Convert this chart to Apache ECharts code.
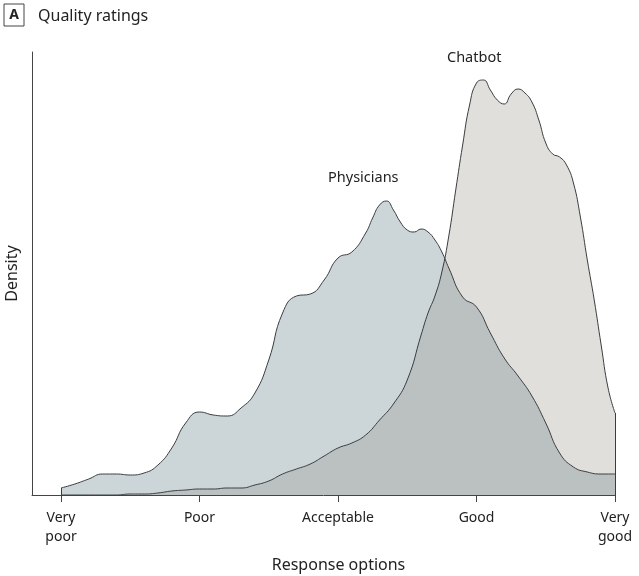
<!DOCTYPE html>
<html>
<head>
<meta charset="utf-8">
<script src="https://cdn.jsdelivr.net/npm/echarts@6/dist/echarts.min.js"></script>
<style>
html,body{margin:0;padding:0;background:#fff;}
#c{width:639px;height:576px;}
</style>
</head>
<body>
<div id="c"></div>
<script>
// Response scale positions (1 = Very poor ... 5 = Very good)
const tickValues = [1, 2, 3, 4, 5];
const tickLabels = ['Very\npoor', 'Poor', 'Acceptable', 'Good', 'Very\ngood'];

// Physicians: x positions and density (arbitrary units)
const physX = [1.0,1.1,1.2,1.3,1.4,1.5,1.6,1.7,1.8,1.9,
               2.0,2.1,2.2,2.3,2.4,2.5,2.6,2.7,2.8,2.9,
               3.0,3.1,3.2,3.25,3.3,3.35,3.4,3.45,3.5,3.55,
               3.6,3.65,3.7,3.75,3.8,3.9,
               4.0,4.1,4.2,4.3,4.4,4.5,4.6,4.7,4.8,4.9,5.0];
const physicians = [7,11,16,21,21,20,22,30,47,72,
                    83,80,79,87,102,135,182,199,201,215,
                    237,243,262,277,290,294,285,273,265,263,
                    266,263,255,243,227,198,
                    188,162,137,119,99,72,42,28,23,21,21];

// Chatbot: x positions and density
const chatX = [1.0,1.1,1.2,1.3,1.4,1.5,1.6,1.7,1.8,1.9,
               2.0,2.1,2.2,2.3,2.4,2.5,2.6,2.7,2.8,2.9,
               3.0,3.1,3.2,3.3,3.4,3.5,3.6,3.65,3.7,3.75,
               3.8,3.85,3.9,3.95,4.0,4.05,4.1,4.15,4.2,4.25,
               4.3,4.35,4.4,4.45,4.5,4.55,4.6,4.65,4.7,4.75,
               4.8,4.85,4.9,4.95,5.0];
const chatbot = [0,0,0,0,0,1,1,2,4,5,
                 6,6,7,7,10,14,21,26,31,39,
                 47,52,60,75,91,115,160,182,199,223,
                 259,305,350,390,412,415,405,395,391,401,
                 406,402,393,375,352,341,338,330,312,278,
                 235,195,150,107,82];

function pairs(xs, vals){
  return xs.map(function(x, i){ return [x, vals[i]]; });
}
function edges(xs, vals){
  const last = xs.length - 1;
  return {
    silent: true, symbol: 'none', label: {show: false},
    lineStyle: {color: '#3a3d3f', width: 1, type: 'solid'},
    data: [
      [{coord: [xs[0], 0]}, {coord: [xs[0], vals[0]]}],
      [{coord: [xs[last], 0]}, {coord: [xs[last], vals[last]]}]
    ]
  };
}

const chart = echarts.init(document.getElementById('c'), null, {renderer:'canvas'});
const FONT = '"Noto Sans", sans-serif';
const xMin = 1 - 29/138.5;

chart.setOption({
  animation: false,
  title: {
    left: 4, top: 6, padding: 0,
    text: '{box|A}{t|Quality ratings}',
    textStyle: {
      rich: {
        box: {fontFamily: FONT, fontWeight: 'bold', fontSize: 14, color: '#222',
              borderColor: '#444', borderWidth: 1, width: 14, align:'center',
              padding: [3, 3, 2, 3], height: 17, lineHeight: 18},
        t: {fontFamily: FONT, fontWeight: 'normal', fontSize: 16, color: '#222', padding: [2, 0, 0, 14]}
      }
    }
  },
  grid: {left: 32, right: 24, top: 52, bottom: 81, containLabel: false, outerBoundsMode: 'none'},
  xAxis: {
    type: 'value', min: xMin, max: 5,
    name: 'Response options', nameLocation: 'middle', nameGap: 62,
    nameTextStyle: {fontFamily: FONT, fontSize: 16, color: '#222', padding: [0, 0, 0, 30]},
    axisLine: {show: true, lineStyle: {color: '#444', width: 1}},
    axisTick: {show: true, length: 7, lineStyle: {color: '#444'}, customValues: tickValues},
    axisLabel: {
      customValues: tickValues,
      fontFamily: FONT, fontSize: 14, color: '#222', lineHeight: 19, margin: 14,
      verticalAlign: 'top',
      formatter: function(v){ const i = tickValues.indexOf(Math.round(v)); return i >= 0 ? tickLabels[i] : ''; }
    },
    splitLine: {show: false}
  },
  yAxis: {
    type: 'value', min: 0, max: 443,
    name: 'Density', nameLocation: 'middle', nameGap: 12, nameRotate: 90,
    nameTextStyle: {fontFamily: FONT, fontSize: 16, color: '#222'},
    axisLine: {show: true, lineStyle: {color: '#444', width: 1}},
    axisTick: {show: false}, axisLabel: {show: false}, splitLine: {show: false}
  },
  graphic: [
    {type: 'text', left: 328, top: 170, style: {text: 'Physicians', font: '14.5px "Noto Sans"', fill: '#222'}},
    {type: 'text', left: 447, top: 50, style: {text: 'Chatbot', font: '14.5px "Noto Sans"', fill: '#222'}}
  ],
  series: [
    {
      name: 'Physicians', type: 'line', data: pairs(physX, physicians),
      smooth: 0.5, symbol: 'none',
      lineStyle: {color: '#3a3d3f', width: 1},
      areaStyle: {color: '#ccd6d9', opacity: 1},
      markLine: edges(physX, physicians)
    },
    {
      name: 'Chatbot', type: 'line', data: pairs(chatX, chatbot),
      smooth: 0.5, symbol: 'none',
      lineStyle: {color: '#3a3d3f', width: 1},
      areaStyle: {color: 'rgb(144,141,130)', opacity: 0.28},
      markLine: edges(chatX, chatbot)
    }
  ]
});
</script>
</body>
</html>
